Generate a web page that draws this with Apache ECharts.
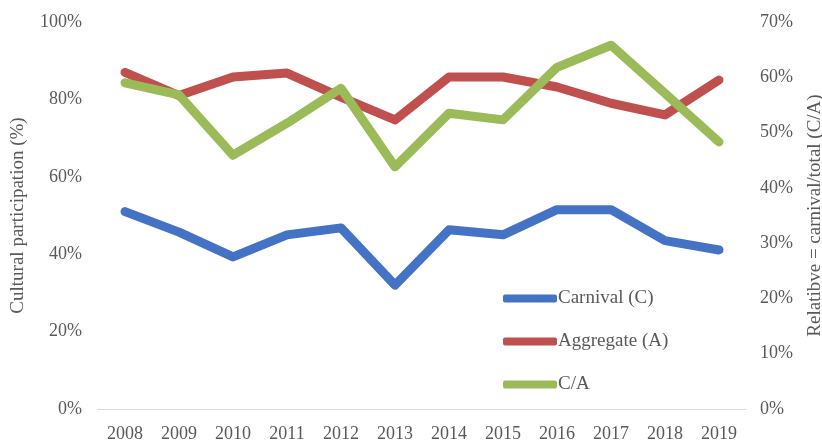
<!DOCTYPE html>
<html>
<head>
<meta charset="utf-8">
<script src="https://cdn.jsdelivr.net/npm/echarts@6/dist/echarts.min.js"></script>
<style>
  html, body { margin: 0; padding: 0; background: #fff; }
  #chart { width: 822px; height: 443px; }
</style>
</head>
<body>
<div id="chart"></div>
<script>
// years on the x axis
var years = ["2008", "2009", "2010", "2011", "2012", "2013", "2014", "2015", "2016", "2017", "2018", "2019"];
// left axis (%)
var carnival = [51, 45.7, 39.3, 45, 46.8, 32, 46.3, 45, 51.5, 51.5, 43.5, 41.1];
var aggregate = [87, 81, 85.8, 86.8, 80.6, 74.7, 85.8, 85.8, 83.2, 79, 76, 85];
// right axis (%)
var ratio = [59, 56.8, 45.9, 51.7, 58, 43.8, 53.5, 52.3, 61.8, 65.8, 57.1, 48.3];

var labelStyle = { color: "#595959", fontFamily: "Liberation Serif", fontSize: 18 };
var nameStyle = { color: "#595959", fontFamily: "Liberation Serif", fontSize: 19 };

var myChart = echarts.init(document.getElementById("chart"));
var option = {
  animation: false,
  grid: { left: 98, right: 76, top: 22, bottom: 34, outerBoundsMode: "none" },
  legend: {
    orient: "vertical",
    left: 498,
    top: 284,
    itemGap: 24,
    itemWidth: 54,
    itemHeight: 8,
    icon: "roundRect",
    textStyle: { color: "#595959", fontFamily: "Liberation Serif", fontSize: 19, padding: [0, 0, 0, -4] },
    data: ["Carnival (C)", "Aggregate (A)", "C/A"]
  },
  xAxis: {
    type: "category",
    data: years,
    boundaryGap: true,
    axisLine: { lineStyle: { color: "#d9d9d9", width: 1 } },
    axisTick: { show: false },
    axisLabel: Object.assign({ margin: 16 }, labelStyle)
  },
  yAxis: [
    {
      type: "value",
      min: 0, max: 100, interval: 20,
      name: "Cultural participation (%)",
      nameLocation: "middle",
      nameGap: 70,
      nameTextStyle: nameStyle,
      axisLine: { show: false },
      axisTick: { show: false },
      splitLine: { show: false },
      axisLabel: Object.assign({ margin: 16, formatter: "{value}%" }, labelStyle)
    },
    {
      type: "value",
      min: 0, max: 70, interval: 10,
      name: "Relatibve = carnival/total (C/A)",
      nameLocation: "middle",
      nameGap: 60,
      nameTextStyle: nameStyle,
      axisLine: { show: false },
      axisTick: { show: false },
      splitLine: { show: false },
      axisLabel: Object.assign({ margin: 14, formatter: "{value}%" }, labelStyle)
    }
  ],
  series: [
    {
      name: "Carnival (C)", type: "line", yAxisIndex: 0, data: carnival,
      symbol: "none", lineStyle: { color: "#4472C4", width: 9, cap: "round", join: "round" },
      itemStyle: { color: "#4472C4" }
    },
    {
      name: "Aggregate (A)", type: "line", yAxisIndex: 0, data: aggregate,
      symbol: "none", lineStyle: { color: "#C0504D", width: 9, cap: "round", join: "round" },
      itemStyle: { color: "#C0504D" }
    },
    {
      name: "C/A", type: "line", yAxisIndex: 1, data: ratio,
      symbol: "none", lineStyle: { color: "#9BBB59", width: 9, cap: "round", join: "round" },
      itemStyle: { color: "#9BBB59" }
    }
  ]
};
myChart.setOption(option);
</script>
</body>
</html>
